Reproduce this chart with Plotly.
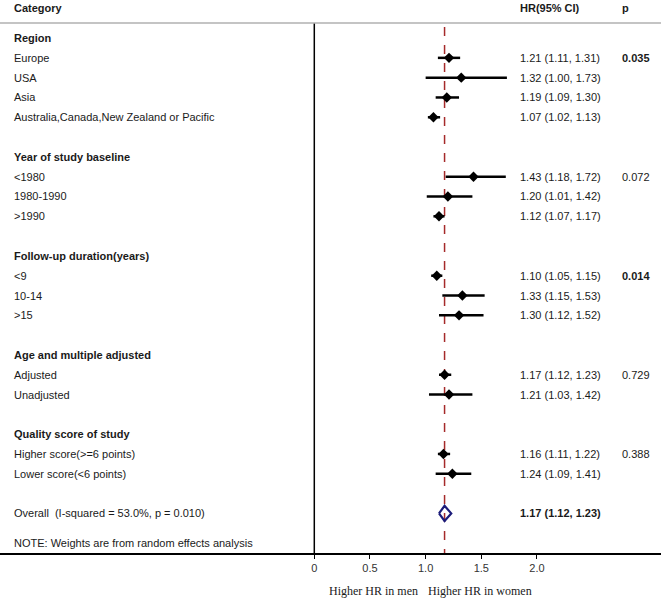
import plotly.graph_objects as go

# ---- data ----
category_labels = [
    "Region", "Europe", "USA", "Asia", "Australia,Canada,New Zealand or Pacific", "",
    "Year of study baseline", "<1980", "1980-1990", ">1990", "",
    "Follow-up duration(years)", "<9", "10-14", ">15", "",
    "Age and multiple adjusted", "Adjusted", "Unadjusted", "",
    "Quality score of study", "Higher score(>=6 points)", "Lower score(<6 points)", "",
]
is_header = [True, False, False, False, False, False,
             True, False, False, False, False,
             True, False, False, False, False,
             True, False, False, False,
             True, False, False, False]
hr = [None, 1.21, 1.32, 1.19, 1.07, None,
      None, 1.43, 1.20, 1.12, None,
      None, 1.10, 1.33, 1.30, None,
      None, 1.17, 1.21, None,
      None, 1.16, 1.24, None]
ci_low = [None, 1.11, 1.00, 1.09, 1.02, None,
          None, 1.18, 1.01, 1.07, None,
          None, 1.05, 1.15, 1.12, None,
          None, 1.12, 1.03, None,
          None, 1.11, 1.09, None]
ci_high = [None, 1.31, 1.73, 1.30, 1.13, None,
           None, 1.72, 1.42, 1.17, None,
           None, 1.15, 1.53, 1.52, None,
           None, 1.23, 1.42, None,
           None, 1.22, 1.41, None]
p_values = ["", "0.035", "", "", "", "",
            "", "0.072", "", "", "",
            "", "0.014", "", "", "",
            "", "0.729", "", "",
            "", "0.388", "", ""]
p_bold = ["0.035", "0.014"]

overall_label = "Overall  (I-squared = 53.0%, p = 0.010)"
overall_hr, overall_low, overall_high = 1.17, 1.12, 1.23
note_text = "NOTE: Weights are from random effects analysis"
tick_values = [0, 0.5, 1.0, 1.5, 2.0]
tick_labels = ["0", "0.5", "1.0", "1.5", "2.0"]
bottom_labels = ["Higher HR in men", "Higher HR in women"]

# ---- layout constants ----
W, H = 661, 600
TOP_PX, BOT_PX = 23, 553
Y_TOP, Y_BOT = -0.76, 26.0
X_MIN, X_MAX = -2.823, 3.114
overall_row = len(category_labels)
note_row = overall_row + 1.5
header_row = -1.5
FONT = "Liberation Sans, Arial, sans-serif"
fs = 11

def px_to_x(px):
    return X_MIN + px / W * (X_MAX - X_MIN)

def row_to_paper(r):
    return (Y_BOT - r) / (Y_BOT - Y_TOP)

TEXT_X = px_to_x(12)
HR_X = px_to_x(518)
P_X = px_to_x(620)

fig = go.Figure()

# CI lines
for i, (h, lo, hi) in enumerate(zip(hr, ci_low, ci_high)):
    if h is None:
        continue
    fig.add_trace(go.Scatter(x=[lo, hi], y=[i, i], mode="lines",
                             line=dict(color="black", width=2.5),
                             showlegend=False, hoverinfo="skip"))

pts = [(i, h) for i, h in enumerate(hr) if h is not None]
fig.add_trace(go.Scatter(x=[h for _, h in pts], y=[i for i, _ in pts], mode="markers",
                         marker=dict(symbol="diamond", size=8, color="black"),
                         showlegend=False, hoverinfo="skip"))

# overall diamond
dh = 0.38
fig.add_trace(go.Scatter(
    x=[overall_low, overall_hr, overall_high, overall_hr, overall_low],
    y=[overall_row, overall_row - dh, overall_row, overall_row + dh, overall_row],
    mode="lines", line=dict(color="#1c1c7a", width=2.2),
    showlegend=False, hoverinfo="skip"))

# reference lines
fig.add_shape(type="line", x0=0, x1=0, y0=Y_TOP, y1=Y_BOT, xref="x", yref="y",
              line=dict(color="black", width=1.5))
fig.add_shape(type="line", x0=overall_hr, x1=overall_hr, y0=Y_TOP + 0.2, y1=Y_BOT,
              xref="x", yref="y", layer="below",
              line=dict(color="#a52a2a", width=1.5, dash="dash"))
fig.add_shape(type="line", x0=0, x1=1, y0=1, y1=1, xref="paper", yref="paper",
              line=dict(color="#b0b0b0", width=1.5))

ann = []
def txt(x, r, s, bold=False, size=fs, family=FONT, anchor="left", color="#1a1a1a"):
    ann.append(dict(x=x, y=row_to_paper(r), xref="x", yref="paper",
                    text=f"<b>{s}</b>" if bold else s,
                    showarrow=False, xanchor=anchor, yanchor="middle",
                    font=dict(family=family, size=size, color=color)))

txt(TEXT_X, header_row, "Category", bold=True)
txt(HR_X, header_row, "HR(95% CI)", bold=True)
txt(P_X, header_row, "p", bold=True)

for i, lab in enumerate(category_labels):
    if lab:
        txt(TEXT_X, i, lab, bold=is_header[i])
    if hr[i] is not None:
        txt(HR_X, i, f"{hr[i]:.2f} ({ci_low[i]:.2f}, {ci_high[i]:.2f})")
    if p_values[i]:
        txt(P_X, i, p_values[i], bold=p_values[i] in p_bold)

txt(TEXT_X, overall_row, overall_label)
txt(HR_X, overall_row, f"{overall_hr:.2f} ({overall_low:.2f}, {overall_high:.2f})", bold=True)
txt(TEXT_X, note_row, note_text)

serif = "Liberation Serif, Times New Roman, serif"
for lab, cx in zip(bottom_labels, [373, 479.5]):
    ann.append(dict(x=px_to_x(cx), y=0, xref="x", yref="paper", yshift=-38, text=lab,
                    showarrow=False, xanchor="center", yanchor="middle",
                    font=dict(family=serif, size=12, color="#1a1a1a")))

fig.update_layout(
    width=W, height=H,
    margin=dict(l=0, r=0, t=TOP_PX, b=H - BOT_PX, pad=0),
    paper_bgcolor="white", plot_bgcolor="white",
    annotations=ann,
    xaxis=dict(range=[X_MIN, X_MAX], showgrid=False, zeroline=False,
               showline=True, linecolor="black", linewidth=1.5,
               ticks="outside", ticklen=4, tickcolor="black", tickwidth=1,
               tickvals=tick_values, ticktext=tick_labels,
               tickfont=dict(family=FONT, size=11, color="#333333"), fixedrange=True),
    yaxis=dict(range=[Y_BOT, Y_TOP], showgrid=False, zeroline=False, showline=False,
               showticklabels=False, ticks="", fixedrange=True),
    showlegend=False,
)

fig.write_html("out.html", config={"displayModeBar": False},
               post_script="document.body.style.margin='0';document.body.style.overflow='hidden';")
